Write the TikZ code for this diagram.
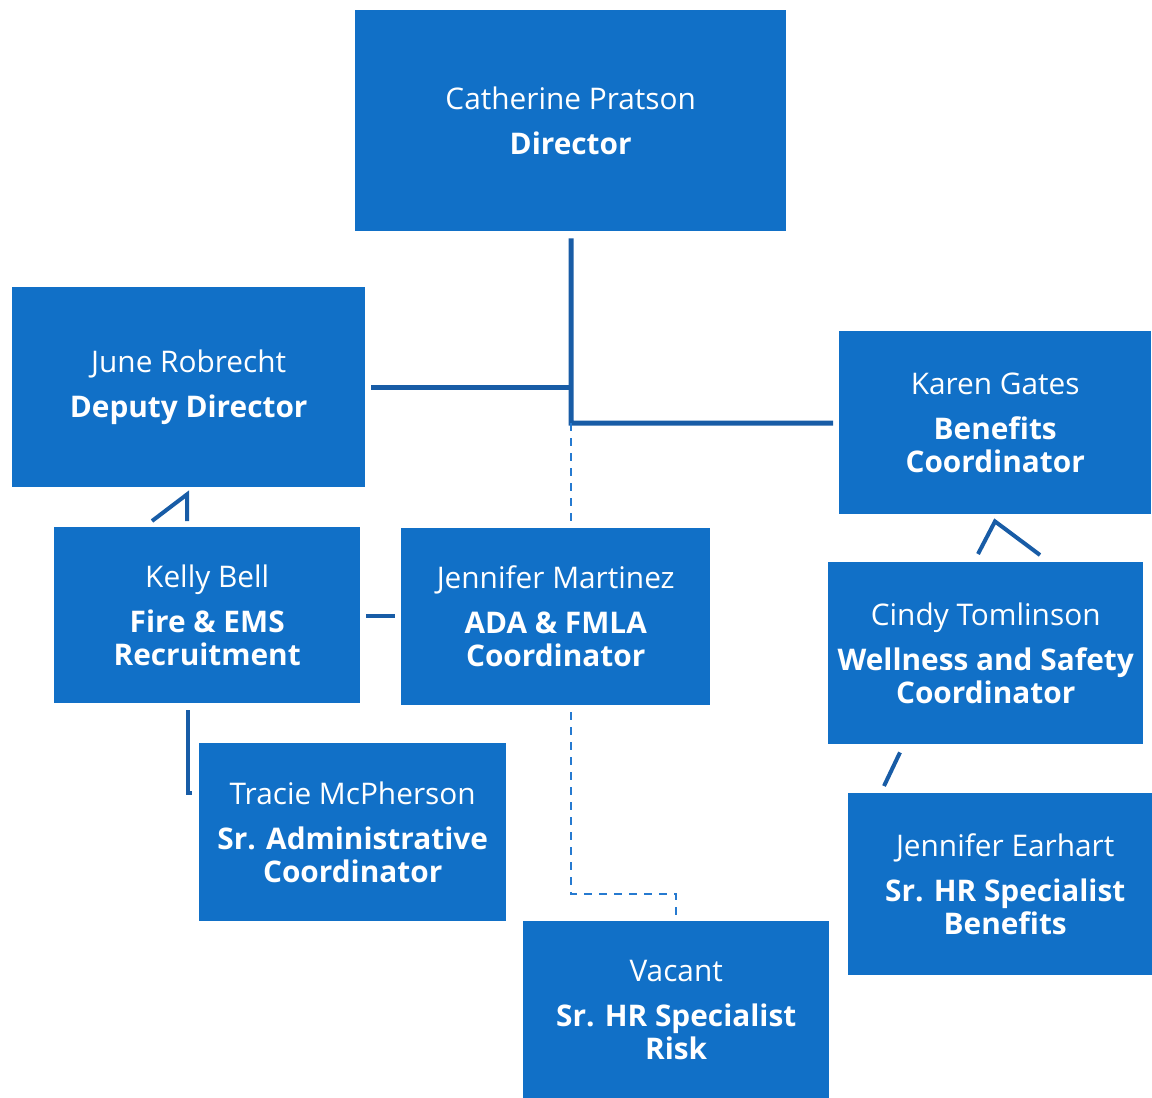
\documentclass[tikz,border=0pt]{standalone}
\usepackage{fontspec}
\setmainfont{Open Sans}
\usetikzlibrary{calc}
\definecolor{boxblue}{RGB}{17,112,199}
\definecolor{linkblue}{RGB}{24,92,166}
\definecolor{dashblue}{RGB}{38,122,208}
\tikzset{
  box/.style={fill=boxblue, draw=none, text=white, inner sep=0pt, anchor=north west,
    align=center, font=\fontsize{29.8}{33}\selectfont},
  trunk/.style={draw=linkblue, line width=5pt},
  link/.style={draw=linkblue, line width=4pt},
  dotted link/.style={draw=dashblue, line width=2pt, dash pattern=on 8pt off 7pt},
}
\newcommand{\person}[2]{#1\\[12pt]#2}
\newcommand{\ttl}[1]{\textbf{#1}}
\begin{document}
\begin{tikzpicture}[x=1pt,y=-1pt]
\useasboundingbox (0,0) rectangle (1152,1098);

% staff boxes
\node[box, minimum width=431, minimum height=221] (dir) at (355,10)
  {\person{Catherine Pratson}{\ttl{Director}}};
\node[box, minimum width=353, minimum height=200] (june) at (12,287)
  {\person{June Robrecht}{\ttl{Deputy Director}}};
\node[box, minimum width=312, minimum height=183] (karen) at (839,331)
  {\person{Karen Gates}{\ttl{Benefits}\\\ttl{Coordinator}}};
\node[box, minimum width=306, minimum height=176] (kelly) at (54,527)
  {\person{Kelly Bell}{\ttl{Fire \& EMS}\\\ttl{Recruitment}}};
\node[box, minimum width=309, minimum height=177] (jm) at (401,528)
  {\person{Jennifer Martinez}{\ttl{ADA \& FMLA}\\\ttl{Coordinator}}};
\node[box, minimum width=315, minimum height=182] (cindy) at (828,562)
  {\person{Cindy Tomlinson}{\ttl{Wellness and Safety}\\\ttl{Coordinator}}};
\node[box, minimum width=307, minimum height=178] (tracie) at (199,743)
  {\person{Tracie McPherson}{\ttl{Sr. Administrative}\\\ttl{Coordinator}}};
\node[box, minimum width=314, minimum height=182] (earhart) at (848,793)
  {\person{Jennifer Earhart}{\ttl{Sr. HR Specialist}\\\ttl{Benefits}}};
\node[box, minimum width=306, minimum height=177] (vacant) at (523,921)
  {\person{Vacant}{\ttl{Sr. HR Specialist}\\\ttl{Risk}}};

% junctions on the director's trunk
\coordinate (j1) at (571,387);
\coordinate (j2) at (571,423);

% director to deputy and benefits
\draw[trunk] ($(dir.south)+(0.5,7)$) -- (j2) -- ($(karen.west |- j2)+(-6,0)$);
\draw[trunk] ($(june.east |- j1)+(6,0)$) -- (j1);

% dotted line down to the ADA & FMLA coordinator
\draw[dotted link] (j2) -- ($(j2 |- jm.north)+(0,-6)$);

% deputy to fire & EMS recruitment
\coordinate (kt) at ($(june.south west)+(175,7)$);
\draw[link] ($(kelly.north west)+(98,-6)$) -- (kt) -- ($(kelly.north west)+(133,-6)$);

% fire & EMS recruitment to ADA & FMLA coordinator
\draw[link] ($(kelly.east)+(6,1)$) -- ($(jm.west |- kelly.east)+(-6,1)$);

% fire & EMS recruitment to senior administrative coordinator
\coordinate (kb) at ($(kelly.south west)+(134,90)$);
\draw[link] ($(kelly.south west)+(134,7)$) -- (kb) -- ($(kb)+(4,0)$);

% benefits coordinator to wellness and safety
\coordinate (kc) at ($(karen.south west)+(156,7)$);
\draw[link] ($(cindy.north west)+(150,-8)$) -- (kc) -- ($(cindy.north west)+(212,-7)$);

% wellness and safety to senior HR specialist (benefits)
\draw[link] ($(earhart.north west)+(36,-7)$) -- ($(cindy.south west)+(72,8)$);

% dotted line from ADA & FMLA coordinator to the vacant post
\coordinate (dv) at ($(jm.south)+(15.5,189)$);
\draw[dotted link] ($(jm.south)+(15.5,7)$) -- (dv) -| ($(vacant.north)+(0,-6)$);
\end{tikzpicture}
\end{document}
